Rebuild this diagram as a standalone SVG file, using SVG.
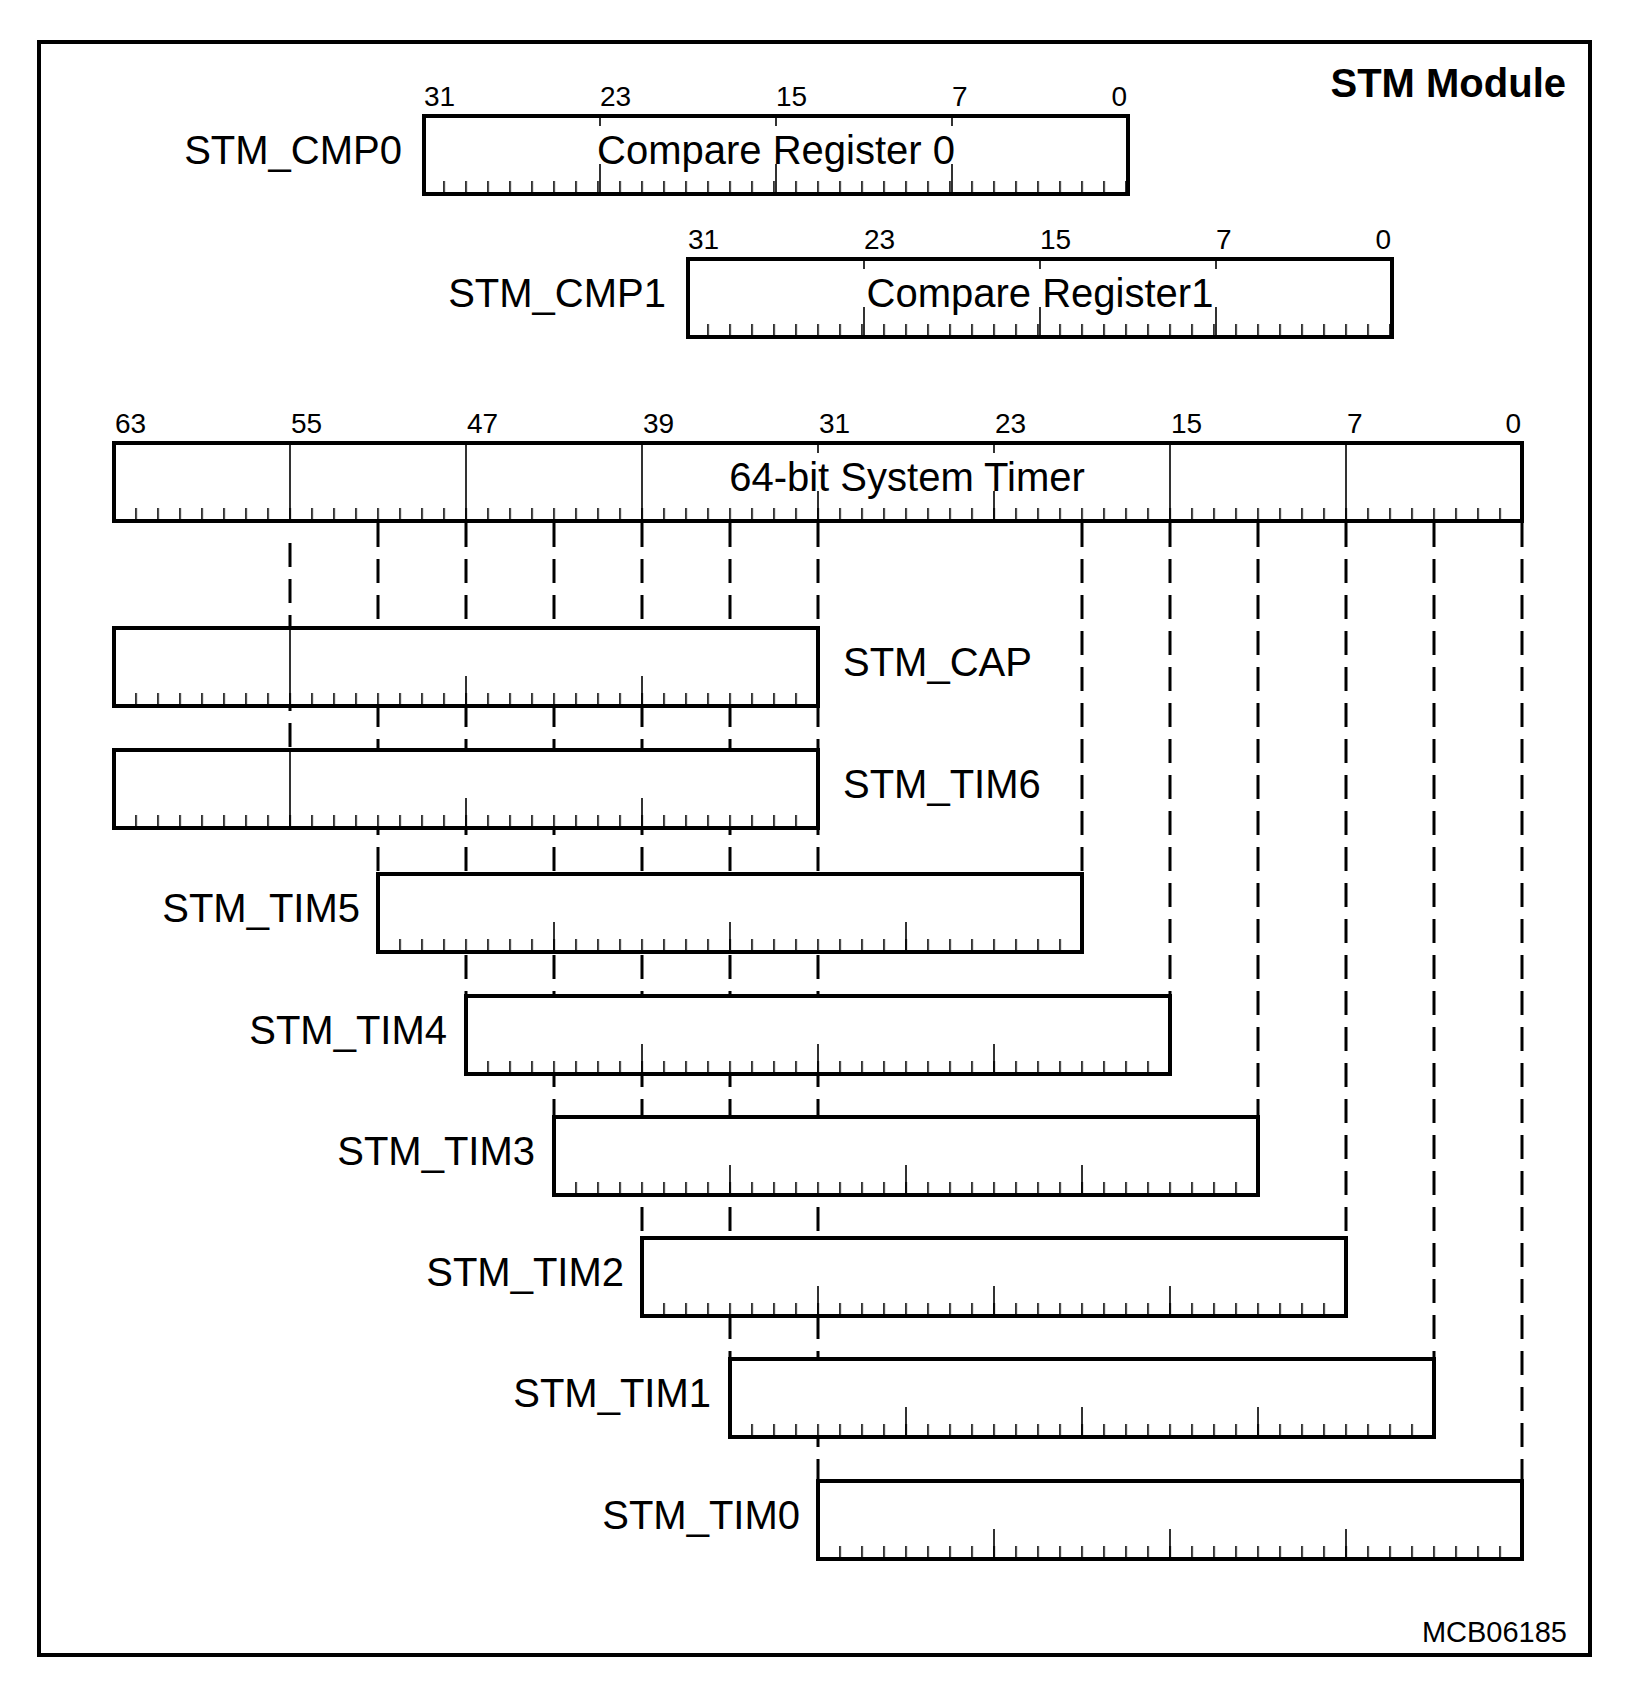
<svg xmlns="http://www.w3.org/2000/svg" width="1636" height="1686" viewBox="0 0 1636 1686">
<style>
.box{fill:#fff;stroke:#000;stroke-width:4}
.tk{fill:url(#ticks)}
.mj{stroke:#000;stroke-width:1.6;fill:none}
.dash{stroke:#000;stroke-width:3;stroke-dasharray:24 12;fill:none}
text{font-family:"Liberation Sans",Arial,sans-serif;fill:#000}
.lbl{font-size:40px}
.num{font-size:28px}
</style>
<defs>
<pattern id="ticks" patternUnits="userSpaceOnUse" x="3.2" y="0" width="22" height="10"><rect x="0" y="0" width="1.6" height="10" fill="#000"/></pattern>
</defs>
<rect x="39" y="42" width="1551" height="1613" fill="#fff" stroke="#000" stroke-width="4"/>
<text x="1566" y="97" font-size="40" font-weight="bold" text-anchor="end">STM Module</text>
<text x="1567" y="1642" font-size="29" text-anchor="end">MCB06185</text>
<g id="connectors">
<path class="dash" d="M290 543V828M378 523V874M466 523V996M554 523V1117M642 523V1238M730 523V1359M818 523V1481M1082 523V874M1170 523V996M1258 523V1117M1346 523V1238M1434 523V1359M1522 523V1481"/>
</g>
<g id="cmp0">
<rect class="box" x="424" y="116" width="704" height="78"/>
<rect class="tk" x="426" y="181" width="700" height="13"/>
<path class="mj" d="M600 194v-30M776 194v-30M952 194v-30M600 116v10M776 116v10M952 116v10"/>
<text class="lbl" x="776" y="164" text-anchor="middle">Compare Register 0</text>
<text class="lbl" x="402" y="164" text-anchor="end">STM_CMP0</text>
<text class="num" x="424" y="106">31</text><text class="num" x="600" y="106">23</text><text class="num" x="776" y="106">15</text><text class="num" x="952" y="106">7</text><text class="num" x="1127" y="106" text-anchor="end">0</text>
</g>
<g id="cmp1">
<rect class="box" x="688" y="259" width="704" height="78"/>
<rect class="tk" x="690" y="324" width="700" height="13"/>
<path class="mj" d="M864 337v-30M1040 337v-30M1216 337v-30M864 259v10M1040 259v10M1216 259v10"/>
<text class="lbl" x="1040" y="307" text-anchor="middle">Compare Register1</text>
<text class="lbl" x="666" y="307" text-anchor="end">STM_CMP1</text>
<text class="num" x="688" y="249">31</text><text class="num" x="864" y="249">23</text><text class="num" x="1040" y="249">15</text><text class="num" x="1216" y="249">7</text><text class="num" x="1391" y="249" text-anchor="end">0</text>
</g>
<g id="timer">
<rect class="box" x="114" y="443" width="1408" height="78"/>
<rect class="tk" x="116" y="508" width="1404" height="13"/>
<path class="mj" d="M290 443V521M466 443V521M642 443V521M1170 443V521M1346 443V521M818 521v-30M994 521v-30M818 443v10M994 443v10"/>
<text class="lbl" x="907" y="491" text-anchor="middle">64-bit System Timer</text>
<text class="num" x="115" y="433">63</text><text class="num" x="291" y="433">55</text><text class="num" x="467" y="433">47</text><text class="num" x="643" y="433">39</text><text class="num" x="819" y="433">31</text><text class="num" x="995" y="433">23</text><text class="num" x="1171" y="433">15</text><text class="num" x="1347" y="433">7</text><text class="num" x="1521" y="433" text-anchor="end">0</text>
</g>
<g id="cap">
<rect class="box" x="114" y="628" width="704" height="78"/>
<rect class="tk" x="116" y="693" width="700" height="13"/>
<path class="mj" d="M290 628V706M466 706v-30M642 706v-30"/>
<text class="lbl" x="843" y="676">STM_CAP</text>
</g>
<g id="tim6">
<rect class="box" x="114" y="750" width="704" height="78"/>
<rect class="tk" x="116" y="815" width="700" height="13"/>
<path class="mj" d="M290 750V828M466 828v-30M642 828v-30"/>
<text class="lbl" x="843" y="798">STM_TIM6</text>
</g>
<g id="tim5">
<rect class="box" x="378" y="874" width="704" height="78"/>
<rect class="tk" x="380" y="939" width="700" height="13"/>
<path class="mj" d="M554 952v-30M730 952v-30M906 952v-30"/>
<text class="lbl" x="360" y="922" text-anchor="end">STM_TIM5</text>
</g>
<g id="tim4">
<rect class="box" x="466" y="996" width="704" height="78"/>
<rect class="tk" x="468" y="1061" width="700" height="13"/>
<path class="mj" d="M642 1074v-30M818 1074v-30M994 1074v-30"/>
<text class="lbl" x="447" y="1044" text-anchor="end">STM_TIM4</text>
</g>
<g id="tim3">
<rect class="box" x="554" y="1117" width="704" height="78"/>
<rect class="tk" x="556" y="1182" width="700" height="13"/>
<path class="mj" d="M730 1195v-30M906 1195v-30M1082 1195v-30"/>
<text class="lbl" x="535" y="1165" text-anchor="end">STM_TIM3</text>
</g>
<g id="tim2">
<rect class="box" x="642" y="1238" width="704" height="78"/>
<rect class="tk" x="644" y="1303" width="700" height="13"/>
<path class="mj" d="M818 1316v-30M994 1316v-30M1170 1316v-30"/>
<text class="lbl" x="624" y="1286" text-anchor="end">STM_TIM2</text>
</g>
<g id="tim1">
<rect class="box" x="730" y="1359" width="704" height="78"/>
<rect class="tk" x="732" y="1424" width="700" height="13"/>
<path class="mj" d="M906 1437v-30M1082 1437v-30M1258 1437v-30"/>
<text class="lbl" x="711" y="1407" text-anchor="end">STM_TIM1</text>
</g>
<g id="tim0">
<rect class="box" x="818" y="1481" width="704" height="78"/>
<rect class="tk" x="820" y="1546" width="700" height="13"/>
<path class="mj" d="M994 1559v-30M1170 1559v-30M1346 1559v-30"/>
<text class="lbl" x="800" y="1529" text-anchor="end">STM_TIM0</text>
</g>
</svg>
